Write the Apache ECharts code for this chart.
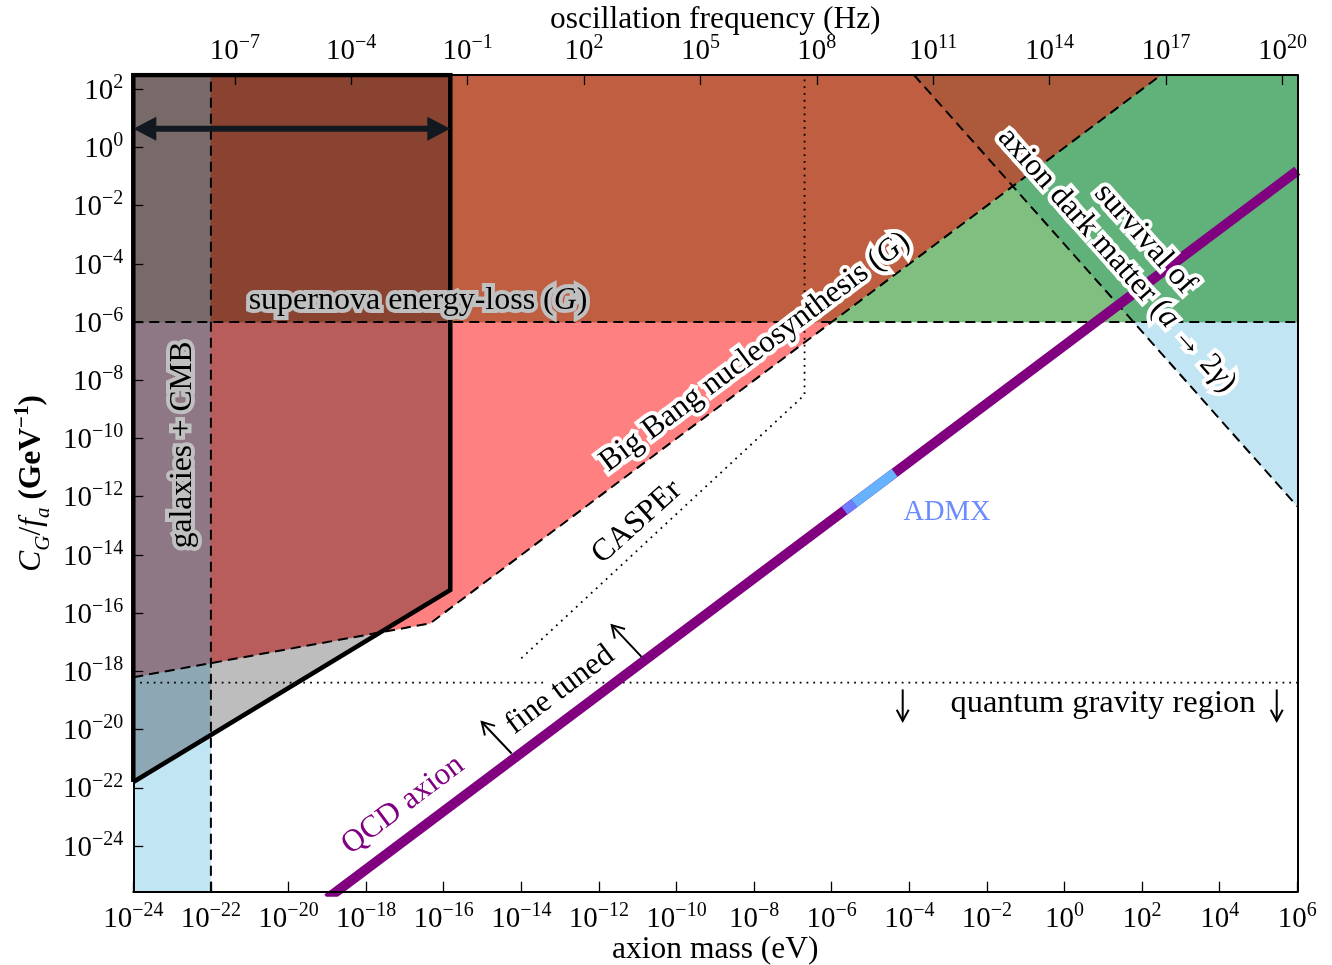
<!DOCTYPE html>
<html>
<head>
<meta charset="utf-8">
<script src="https://cdn.jsdelivr.net/npm/echarts@6/dist/echarts.min.js"></script>
<style>
  html, body { margin: 0; padding: 0; background: #fff; }
  #chart { width: 1332px; height: 965px; }
</style>
</head>
<body>
<div id="chart"></div>
<script>
// Every quantity is a power of ten: x = log10(m_a / eV), y = log10(C_G/f_a / GeV^-1)
const SERIF = "'Liberation Serif', 'DejaVu Serif', serif";

const massRange = [-24, 6];
const couplingRange = [-25.57, 2.49];
const massTicks = [-24, -22, -20, -18, -16, -14, -12, -10, -8, -6, -4, -2, 0, 2, 4, 6];
const couplingTicks = [-24, -22, -20, -18, -16, -14, -12, -10, -8, -6, -4, -2, 0, 2];
const freqTicks = [-7, -4, -1, 2, 5, 8, 11, 14, 17, 20];
const LOG10_H = -14.3835;            // Planck constant in eV s

// Constraint edges
const snCoupling = -6;                                  // supernova energy loss
const galaxyMass = -22;                                 // galaxies + CMB
const bbnFloor = [[-24, -18.2], [-16.35, -16.35]];      // BBN lower edge, then C/f = m
const boxEdge = [[-24, -21.8], [-15.83, -15.2]];        // outlined region, lower edge
const survivalEdge = [[-3.88, 2.49], [6, -12.33]];      // survival of axion dark matter
const casperReach = [[-14.0, -17.55], [-6.70, -8.5], [-6.70, 2.49]];
const gravityCoupling = -18.39;                         // quantum gravity
const qcdBand = [[-19, -25.8], [6, -0.8]];
const admxSearched = [[-5.67, -12.47], [-5.42, -12.22]];
const admxPlanned = [[-5.42, -12.22], [-4.38, -11.18]];
const widthArrow = [[-24, 0.64], [-15.83, 0.64]];
const fineTunedArrows = [[[-14.25, -20.82], [-15.02, -19.74]], [[-10.90, -17.50], [-11.67, -16.41]]];
const gravityArrows = [[[-4.17, -18.62], [-4.17, -19.70]], [[5.47, -18.62], [5.47, -19.70]]];

const [B, T] = couplingRange;
const [L, R] = massRange;
const slope = s => (s[1][1] - s[0][1]) / (s[1][0] - s[0][0]);
const lerp = (s, x) => s[0][1] + slope(s) * (x - s[0][0]);
const bbnAt = x => x < bbnFloor[1][0] ? lerp(bbnFloor, x) : x;
const boxAt = x => lerp(boxEdge, x);
const survAt = x => lerp(survivalEdge, x);

// crossing of the outlined edge with the BBN edge (both start at the left border)
const tCross = (bbnFloor[0][1] - boxEdge[0][1]) / (slope(boxEdge) - slope(bbnFloor));
const cross = [L + tCross, boxAt(L + tCross)];
// crossing of the survival edge with C/f = m and with the supernova bound
const sS = slope(survivalEdge), aS = survivalEdge[0][1] - sS * survivalEdge[0][0];
const survDiag = aS / (1 - sS);
const survSN = survivalEdge[0][0] + (snCoupling - survivalEdge[0][1]) / sS;
const boxX = boxEdge[1][0];

const regions = [
  { color: '#ff8080', pts: [bbnFloor[0], bbnFloor[1], [snCoupling, snCoupling], [L, snCoupling]] },
  { color: '#bf5e40', pts: [[L, snCoupling], [snCoupling, snCoupling], [T, T], [L, T]] },
  { color: '#80bf80', pts: [[snCoupling, snCoupling], [R, snCoupling], [R, T], [T, T]] },
  { color: '#c2e5f3', pts: [[survSN, snCoupling], [R, survAt(R)], [R, snCoupling]] },
  { color: '#60b17a', pts: [[survDiag, survDiag], [survSN, snCoupling], [R, snCoupling], [R, T], [T, T]] },
  { color: '#ad5a3c', pts: [survivalEdge[0], [survDiag, survDiag], [T, T]] },
  { color: '#c2e5f3', pts: [[L, B], [galaxyMass, B], [galaxyMass, boxAt(galaxyMass)], [L, boxAt(L)]] },
  { color: '#8ea7b4', pts: [[L, boxAt(L)], [galaxyMass, boxAt(galaxyMass)], [galaxyMass, bbnAt(galaxyMass)], [L, bbnAt(L)]] },
  { color: '#8f7886', pts: [[L, bbnAt(L)], [galaxyMass, bbnAt(galaxyMass)], [galaxyMass, snCoupling], [L, snCoupling]] },
  { color: '#796a6a', pts: [[L, snCoupling], [galaxyMass, snCoupling], [galaxyMass, T], [L, T]] },
  { color: '#bdbdbd', pts: [[galaxyMass, boxAt(galaxyMass)], cross, [galaxyMass, bbnAt(galaxyMass)]] },
  { color: '#b85c5c', pts: [[galaxyMass, bbnAt(galaxyMass)], cross, boxEdge[1], [boxX, snCoupling], [galaxyMass, snCoupling]] },
  { color: '#8a4330', pts: [[galaxyMass, snCoupling], [boxX, snCoupling], [boxX, T], [galaxyMass, T]] }
];

const labels = [
  { at: [-16.66, -5.27], text: 'supernova energy-loss ({i|G})', halo: '#c0c0c0', size: 32 },
  { at: [-7.98, -7.03], dir: [1, 1], text: 'Big Bang nucleosynthesis ({i|G})', halo: '#fff' },
  { at: [-11.02, -12.87], dir: [1, 1.2], text: 'CASPEr', halo: '#fff' },
  { at: [-13.0, -18.64], dir: [1, 1], text: 'fine tuned', halo: '#fff' },
  { at: [-17.05, -22.59], dir: [1, 1], text: 'QCD axion', color: '#800080', halo: '#fff' },
  { at: [-3.03, -12.53], text: 'ADMX', color: '#6b8bff', size: 28.5 },
  { at: [0.99, -19.09], text: 'quantum gravity region', halo: '#fff', size: 32.5 },
  { at: [-22.72, -10.22], rot: 90, text: 'galaxies + CMB', halo: '#c0c0c0' },
  { at: [1.35, -3.87], dir: [1, -1.5], text: 'axion dark matter ({i|a} → 2{i|γ})', halo: '#fff' },
  { at: [2.07, -3.14], dir: [1, -1.5], text: 'survival of', halo: '#fff' }
];

const arrows = [
  { from: widthArrow[0], to: widthArrow[1], head: 'solid', color: '#111820', width: 6, len: 23, half: 12 },
  { from: fineTunedArrows[0][0], to: fineTunedArrows[0][1], head: 'open', color: '#000', width: 2, len: 12, half: 7 },
  { from: fineTunedArrows[1][0], to: fineTunedArrows[1][1], head: 'open', color: '#000', width: 2, len: 12, half: 7 },
  { from: gravityArrows[0][0], to: gravityArrows[0][1], head: 'open', color: '#000', width: 2, len: 11, half: 6 },
  { from: gravityArrows[1][0], to: gravityArrows[1][1], head: 'open', color: '#000', width: 2, len: 11, half: 6 }
];

const supText = v => (v < 0 ? '−' : '') + Math.abs(v);
const tickLabel = v => '{b|10}{s|' + supText(Math.round(v)) + '}';
const tickRich = {
  b: { fontFamily: SERIF, fontSize: 29, color: '#000', verticalAlign: 'bottom', padding: [4, 0, 0, 0] },
  s: { fontFamily: SERIF, fontSize: 20, color: '#000', verticalAlign: 'top' }
};
const TITLE_SIZE = 31.5;
const yTitleRich = {
  i: { fontFamily: SERIF, fontSize: TITLE_SIZE, fontStyle: 'italic', verticalAlign: 'top', padding: [3, 0, 6, 0] },
  r: { fontFamily: SERIF, fontSize: TITLE_SIZE, verticalAlign: 'top', padding: [3, 0, 6, 0] },
  sub: { fontFamily: SERIF, fontSize: 21, fontStyle: 'italic', verticalAlign: 'bottom' },
  b: { fontFamily: SERIF, fontSize: TITLE_SIZE, fontWeight: 'bold', verticalAlign: 'top', padding: [3, 0, 6, 0] },
  bs: { fontFamily: SERIF, fontSize: 21, fontWeight: 'bold', verticalAlign: 'top' }
};

function renderRegion(params, api) {
  const r = regions[params.dataIndex];
  return {
    type: 'polygon',
    shape: { points: r.pts.map(p => api.coord(p)) },
    style: { fill: r.color, stroke: r.color, lineWidth: 0.6 }
  };
}

function renderArrow(params, api) {
  const a = arrows[params.dataIndex];
  const p = api.coord(a.from), q = api.coord(a.to);
  const dx = q[0] - p[0], dy = q[1] - p[1], n = Math.hypot(dx, dy);
  const ux = dx / n, uy = dy / n, nx = -uy, ny = ux;
  const head = tip => {
    const s = tip === q ? 1 : -1;
    const bx = tip[0] - s * ux * a.len, by = tip[1] - s * uy * a.len;
    return [[bx + nx * a.half, by + ny * a.half], tip, [bx - nx * a.half, by - ny * a.half]];
  };
  const children = [];
  if (a.head === 'solid') {
    const k = a.len * 0.7;
    children.push({ type: 'line', shape: { x1: p[0] + ux * k, y1: p[1] + uy * k, x2: q[0] - ux * k, y2: q[1] - uy * k },
      style: { stroke: a.color, lineWidth: a.width } });
    children.push({ type: 'polygon', shape: { points: head(p) }, style: { fill: a.color } });
    children.push({ type: 'polygon', shape: { points: head(q) }, style: { fill: a.color } });
  } else {
    children.push({ type: 'line', shape: { x1: p[0], y1: p[1], x2: q[0], y2: q[1] },
      style: { stroke: a.color, lineWidth: a.width } });
    children.push({ type: 'polyline', shape: { points: head(q) },
      style: { stroke: a.color, lineWidth: a.width, fill: null } });
  }
  return { type: 'group', children };
}

function renderLabel(params, api) {
  const l = labels[params.dataIndex];
  const p = api.coord(l.at);
  let rot = (l.rot || 0) * Math.PI / 180;
  if (l.dir) {
    const q = api.coord([l.at[0] + l.dir[0], l.at[1] + l.dir[1]]);
    rot = Math.atan2(p[1] - q[1], q[0] - p[0]);
  }
  const size = l.size || 31.5;
  const rich = { i: { fontFamily: SERIF, fontSize: size, fontStyle: 'italic' } };
  return {
    type: 'text', x: p[0], y: p[1], rotation: rot,
    style: {
      text: l.text, rich, fontFamily: SERIF, fontSize: size,
      fill: l.color || '#000', stroke: l.halo || null, lineWidth: l.halo ? 8 : 0,
      align: 'center', verticalAlign: 'middle'
    }
  };
}

const line = (data, color, width, type, z, cap) => ({
  type: 'line', data, symbol: 'none', silent: true, z, clip: true,
  lineStyle: { color, width, type, cap: cap || 'butt', join: 'miter' }
});
const DASH = [10, 6];
const DOT = [1.8, 5];

const GRID = { left: 133.3, right: 34.7, top: 75, bottom: 73.3 };
const W = 1332, H = 965;
const midX = GRID.left + (W - GRID.left - GRID.right) / 2;
const midY = GRID.top + (H - GRID.top - GRID.bottom) / 2;

const option = {
  animation: false,
  grid: Object.assign({ containLabel: false, outerBoundsMode: 'none' }, GRID),
  graphic: [
    { type: 'text', x: midX, y: H - 15, z: 20, silent: true,
      style: { text: 'axion mass (eV)', fontFamily: SERIF, fontSize: TITLE_SIZE, fill: '#000', align: 'center', verticalAlign: 'middle' } },
    { type: 'text', x: midX, y: 20, z: 20, silent: true,
      style: { text: 'oscillation frequency (Hz)', fontFamily: SERIF, fontSize: TITLE_SIZE, fill: '#000', align: 'center', verticalAlign: 'middle' } },
    { type: 'text', x: 33, y: midY, rotation: Math.PI / 2, z: 20, silent: true,
      style: { text: '{i|C}{sub|G}{r|/}{i|f}{sub|a}{b| (GeV}{bs|−1}{b|)}', rich: yTitleRich,
        fontFamily: SERIF, fontSize: TITLE_SIZE, fill: '#000', align: 'center', verticalAlign: 'middle' } }
  ],
  xAxis: [
    {
      type: 'value', position: 'bottom', min: L, max: R, interval: 2, z: 10,
      axisLine: { show: true, onZero: false, lineStyle: { color: '#000', width: 2 } },
      axisTick: { show: true, inside: true, length: 10, customValues: massTicks, lineStyle: { color: '#000', width: 1.3 } },
      axisLabel: { show: true, margin: 9, interval: 0, customValues: massTicks, formatter: tickLabel, rich: tickRich },
      splitLine: { show: false }
    },
    {
      type: 'value', position: 'top', min: L - LOG10_H, max: R - LOG10_H, z: 10,
      axisLine: { show: true, onZero: false, lineStyle: { color: '#000', width: 2 } },
      axisTick: { show: true, inside: true, length: 10, customValues: freqTicks, lineStyle: { color: '#000', width: 1.3 } },
      axisLabel: { show: true, margin: 9, customValues: freqTicks, formatter: tickLabel, rich: tickRich },
      splitLine: { show: false }
    }
  ],
  yAxis: [
    {
      type: 'value', position: 'left', min: B, max: T, z: 10,
      axisLine: { show: true, onZero: false, lineStyle: { color: '#000', width: 2 } },
      axisTick: { show: true, inside: true, length: 10, customValues: couplingTicks, lineStyle: { color: '#000', width: 1.3 } },
      axisLabel: { show: true, margin: 10, customValues: couplingTicks, formatter: tickLabel, rich: tickRich },
      splitLine: { show: false }
    },
    {
      type: 'value', position: 'right', min: B, max: T, z: 10,
      axisLine: { show: true, onZero: false, lineStyle: { color: '#000', width: 2 } },
      axisTick: { show: false }, axisLabel: { show: false }, splitLine: { show: false }
    }
  ],
  series: [
    { type: 'custom', renderItem: renderRegion, data: regions.map(r => r.pts[0]), z: 1, silent: true, clip: true },
    line([[galaxyMass, B], [galaxyMass, T]], '#000', 2, DASH, 3),
    line([[L, snCoupling], [R, snCoupling]], '#000', 2, DASH, 3),
    line([bbnFloor[0], bbnFloor[1], [T, T]], '#000', 2, DASH, 3),
    line(survivalEdge, '#000', 2, DASH, 3),
    line(casperReach, '#000', 1.8, DOT, 3),
    line([[L, gravityCoupling], [R, gravityCoupling]], '#000', 1.8, DOT, 3),
    line([boxEdge[0], [L, T], [boxX, T], boxEdge[1], boxEdge[0]], '#000', 4.5, 'solid', 4),
    line(qcdBand, '#800080', 10, 'solid', 5),
    line(admxSearched, '#6c7dff', 10, 'solid', 6),
    line(admxPlanned, '#66b2ff', 10, 'solid', 6),
    { type: 'custom', renderItem: renderArrow, data: arrows.map(a => a.from), z: 7, silent: true, clip: false },
    { type: 'custom', renderItem: renderLabel, data: labels.map(l => l.at), z: 8, silent: true, clip: false }
  ]
};

const chart = echarts.init(document.getElementById('chart'), null, { renderer: 'canvas' });
chart.setOption(option);
</script>
</body>
</html>
